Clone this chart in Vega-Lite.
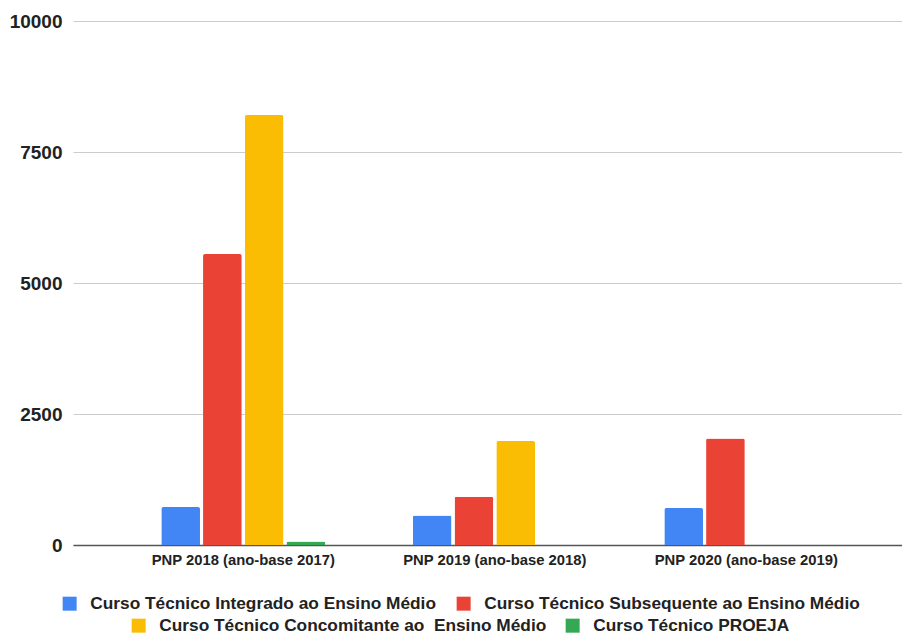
{
  "$schema": "https://vega.github.io/schema/vega-lite/v6.json",
  "width": 829,
  "height": 524,
  "autosize": {"type": "none"},
  "padding": {"left": 73, "top": 21, "right": 0, "bottom": 92},
  "background": "#ffffff",
  "config": {
    "view": {"stroke": null},
    "font": "Liberation Sans",
    "axis": {"labelFont": "Liberation Sans", "labelFontWeight": "bold", "labelColor": "#222222"},
    "legend": {"labelFont": "Liberation Sans", "labelFontWeight": "bold", "labelColor": "#222222"}
  },
  "data": {
    "values": [
      {"ano": "PNP 2018 (ano-base 2017)", "curso": "Curso Técnico Integrado ao Ensino Médio", "valor": 725},
      {"ano": "PNP 2018 (ano-base 2017)", "curso": "Curso Técnico Subsequente ao Ensino Médio", "valor": 5553},
      {"ano": "PNP 2018 (ano-base 2017)", "curso": "Curso Técnico Concomitante ao  Ensino Médio", "valor": 8206},
      {"ano": "PNP 2018 (ano-base 2017)", "curso": "Curso Técnico PROEJA", "valor": 69},
      {"ano": "PNP 2019 (ano-base 2018)", "curso": "Curso Técnico Integrado ao Ensino Médio", "valor": 565},
      {"ano": "PNP 2019 (ano-base 2018)", "curso": "Curso Técnico Subsequente ao Ensino Médio", "valor": 922},
      {"ano": "PNP 2019 (ano-base 2018)", "curso": "Curso Técnico Concomitante ao  Ensino Médio", "valor": 1985},
      {"ano": "PNP 2020 (ano-base 2019)", "curso": "Curso Técnico Integrado ao Ensino Médio", "valor": 706},
      {"ano": "PNP 2020 (ano-base 2019)", "curso": "Curso Técnico Subsequente ao Ensino Médio", "valor": 2034}
    ]
  },
  "encoding": {
    "x": {
      "field": "ano",
      "type": "nominal",
      "title": null,
      "scale": {"paddingInner": 0.348, "paddingOuter": 0.322, "align": 0.545},
      "axis": {
        "labelAngle": 0,
        "labelFontSize": 14.8,
        "labelPadding": 7,
        "labelLimit": 400,
        "ticks": false,
        "domain": true,
        "domainColor": "#555555",
        "domainWidth": 1.5,
        "grid": false
      }
    },
    "xOffset": {
      "field": "curso",
      "type": "nominal",
      "scale": {
        "domain": [
          "Curso Técnico Integrado ao Ensino Médio",
          "Curso Técnico Subsequente ao Ensino Médio",
          "Curso Técnico Concomitante ao  Ensino Médio",
          "Curso Técnico PROEJA"
        ],
        "paddingInner": 0.073,
        "paddingOuter": 0
      }
    },
    "y": {
      "field": "valor",
      "type": "quantitative",
      "title": null,
      "scale": {"domain": [0, 10000], "nice": false},
      "axis": {
        "values": [0, 2500, 5000, 7500, 10000],
        "format": "d",
        "labelFontSize": 19,
        "labelPadding": 11,
        "ticks": false,
        "domain": false,
        "grid": true,
        "gridColor": "#cccccc",
        "gridWidth": 1
      }
    }
  },
  "layer": [
    {
      "transform": [
        {"filter": {"field": "curso", "oneOf": ["Curso Técnico Integrado ao Ensino Médio", "Curso Técnico Subsequente ao Ensino Médio"]}}
      ],
      "mark": {"type": "bar", "cornerRadiusTopLeft": 2, "cornerRadiusTopRight": 2},
      "encoding": {
        "color": {
          "field": "curso",
          "type": "nominal",
          "scale": {
            "domain": ["Curso Técnico Integrado ao Ensino Médio", "Curso Técnico Subsequente ao Ensino Médio"],
            "range": ["#4285F4", "#EA4335"]
          },
          "legend": {
            "title": null,
            "orient": "none",
            "direction": "horizontal",
            "legendX": -12,
            "legendY": 574,
            "padding": 0,
            "symbolType": "square",
            "symbolSize": 196,
            "symbolStrokeWidth": 0,
            "symbolOpacity": 1,
            "labelFontSize": 17.3,
            "labelOffset": 12,
            "labelLimit": 500,
            "columnPadding": 19
          }
        }
      }
    },
    {
      "transform": [
        {"filter": {"field": "curso", "oneOf": ["Curso Técnico Concomitante ao  Ensino Médio", "Curso Técnico PROEJA"]}}
      ],
      "mark": {"type": "bar", "cornerRadiusTopLeft": 2, "cornerRadiusTopRight": 2},
      "encoding": {
        "color": {
          "field": "curso",
          "type": "nominal",
          "scale": {
            "domain": ["Curso Técnico Concomitante ao  Ensino Médio", "Curso Técnico PROEJA"],
            "range": ["#FBBC04", "#34A853"]
          },
          "legend": {
            "title": null,
            "orient": "none",
            "direction": "horizontal",
            "legendX": 57,
            "legendY": 596,
            "padding": 0,
            "symbolType": "square",
            "symbolSize": 196,
            "symbolStrokeWidth": 0,
            "symbolOpacity": 1,
            "labelFontSize": 17.3,
            "labelOffset": 12,
            "labelLimit": 500,
            "columnPadding": 17,
            "labelExpr": "replace(datum.label, 'ao  Ensino', 'ao \u00a0Ensino')"
          }
        }
      }
    }
  ],
  "resolve": {"scale": {"color": "independent"}}
}
